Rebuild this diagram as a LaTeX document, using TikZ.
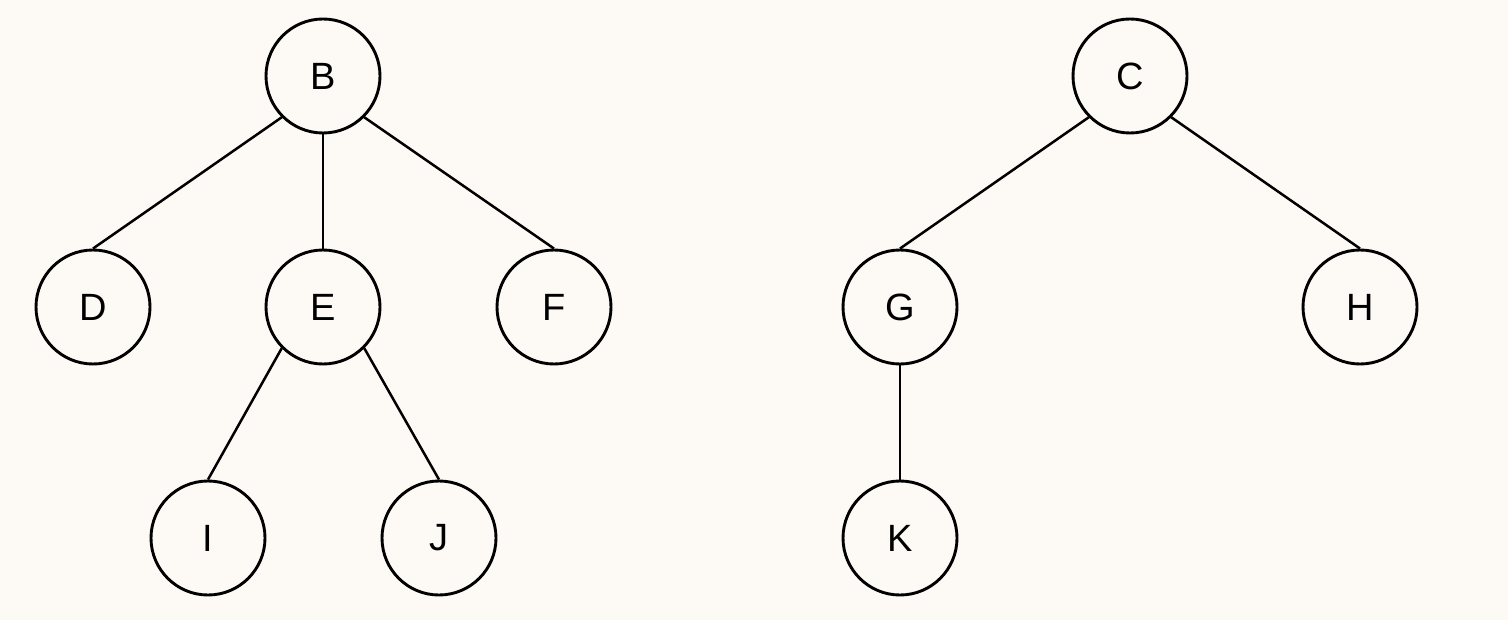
\documentclass[tikz,border=0pt]{standalone}
\usepackage{fontspec}
\setmainfont{Liberation Sans}
\usetikzlibrary{positioning,calc}
\definecolor{paper}{RGB}{253,249,245}
\tikzset{
	x=0.5pt, y=-0.5pt,
	vertex/.style ={circle, draw, line width=1.45pt, minimum size=57pt, inner sep=0pt, font=\fontsize{19}{23}\selectfont}, % tree node
	edge/.style = {line width=1.25pt}
}
\begin{document}
\begin{tikzpicture}
\fill[paper] (0,0) rectangle (1508,620);
\useasboundingbox (0,0) rectangle (1508,620);
% left tree
\node[vertex] (B) at (323,76) {B};
\node[vertex] (D) at (93,307) {D};
\node[vertex] (E) at (323,307) {E};
\node[vertex] (F) at (554,307) {F};
\node[vertex] (I) at (208,538) {I};
\node[vertex] (J) at (439,538) {J};
% right tree
\node[vertex] (C) at (1130,76) {C};
\node[vertex] (G) at (900,307) {G};
\node[vertex] (H) at (1360,307) {H};
\node[vertex] (K) at (900,538) {K};
\draw[edge] (B.south west) -- (D.north);
\draw[edge] (B.south) -- (E.north);
\draw[edge] (B.south east) -- (F.north);
\draw[edge] (E.south west) -- (I.north);
\draw[edge] (E.south east) -- (J.north);
\draw[edge] (C.south west) -- (G.north);
\draw[edge] (C.south east) -- (H.north);
\draw[edge] (G.south) -- (K.north);
\end{tikzpicture}
\end{document}
